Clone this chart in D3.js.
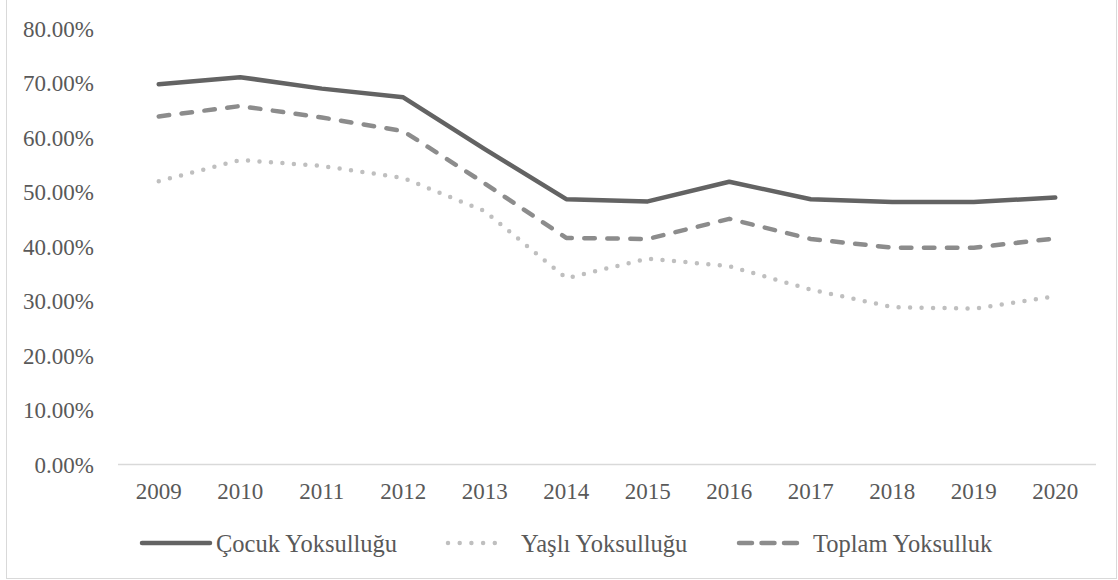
<!DOCTYPE html>
<style>
body { margin: 0; padding: 0; background: #fff; }
text { font-family: "Liberation Serif", "Times New Roman", serif; fill: #595959; }
</style>
<svg width="1118" height="580"></svg>
<script src="https://d3js.org/d3.v7.min.js"></script>
<script>

var years = ["2009","2010","2011","2012","2013","2014","2015","2016","2017","2018","2019","2020"];
var cocuk  = [69.8, 71.1, 69.0, 67.4, 57.9, 48.7, 48.3, 51.9, 48.7, 48.2, 48.2, 49.0];
var yasli  = [52.0, 55.9, 54.8, 52.6, 46.5, 34.2, 37.8, 36.4, 32.1, 28.9, 28.6, 30.9];
var toplam = [63.9, 65.8, 63.7, 61.2, 51.6, 41.6, 41.4, 45.1, 41.4, 39.8, 39.8, 41.5];
var yTicks = [0, 10, 20, 30, 40, 50, 60, 70, 80];

var series = [
  {name: "Çocuk Yoksulluğu", values: cocuk,  color: "#636363", dash: null,         legendX: 140, legendW: 72, textX: 216},
  {name: "Yaşlı Yoksulluğu", values: yasli,  color: "#bfbfbf", dash: "0,11.5",     legendX: 446, legendW: 62, textX: 521},
  {name: "Toplam Yoksulluk", values: toplam, color: "#8c8c8c", dash: "10.5,12.5",  legendX: 737, legendW: 64, textX: 813}
];

var svg = d3.select("svg");

// outer frame
svg.append("rect")
    .attr("x", 6.5).attr("y", -5)
    .attr("width", 1110).attr("height", 583.5)
    .attr("fill", "none")
    .attr("stroke", "#d9d9d9")
    .attr("stroke-width", 1);

var x = d3.scaleBand()
    .domain(years)
    .range([118, 1096]);

var y = d3.scaleLinear()
    .domain([0, 80])
    .range([464.5, 28.7]);

// y tick labels (no gridlines)
svg.append("g")
  .selectAll("text")
  .data(yTicks)
  .enter().append("text")
    .attr("x", 94)
    .attr("y", function(d) { return y(d); })
    .attr("dy", "0.35em")
    .attr("text-anchor", "end")
    .attr("font-size", 23)
    .text(function(d) { return d.toFixed(2) + "%"; });

// x axis line
svg.append("line")
    .attr("x1", x.range()[0]).attr("x2", x.range()[1])
    .attr("y1", y(0)).attr("y2", y(0))
    .attr("stroke", "#d9d9d9")
    .attr("stroke-width", 1.3);

svg.append("g")
  .selectAll("text")
  .data(years)
  .enter().append("text")
    .attr("x", function(d) { return x(d) + x.bandwidth() / 2; })
    .attr("y", 499)
    .attr("text-anchor", "middle")
    .attr("font-size", 23)
    .text(function(d) { return d; });

var line = d3.line()
    .x(function(d, i) { return x(years[i]) + x.bandwidth() / 2; })
    .y(function(d) { return y(d); });

// draw order: dotted, dashed, solid on top
[series[1], series[2], series[0]].forEach(function(s) {
  svg.append("path")
      .datum(s.values)
      .attr("d", line)
      .attr("fill", "none")
      .attr("stroke", s.color)
      .attr("stroke-width", 4.5)
      .attr("stroke-linecap", "round")
      .attr("stroke-linejoin", "round")
      .attr("stroke-dasharray", s.dash);
});

// legend
var legend = svg.append("g")
  .selectAll("g")
  .data(series)
  .enter().append("g");

legend.append("line")
    .attr("x1", function(d) { return d.legendX + 2; })
    .attr("x2", function(d) { return d.legendX + d.legendW - 2; })
    .attr("y1", 543).attr("y2", 543)
    .attr("stroke", function(d) { return d.color; })
    .attr("stroke-width", 4.5)
    .attr("stroke-linecap", "round")
    .attr("stroke-dasharray", function(d) {
      if (d.dash == "0,11.5") return "0,11.7";
      if (d.dash) return "13,9.5";
      return null;
    });

legend.append("text")
    .attr("x", function(d) { return d.textX; })
    .attr("y", 551.5)
    .attr("font-size", 24.5)
    .text(function(d) { return d.name; });

</script>
